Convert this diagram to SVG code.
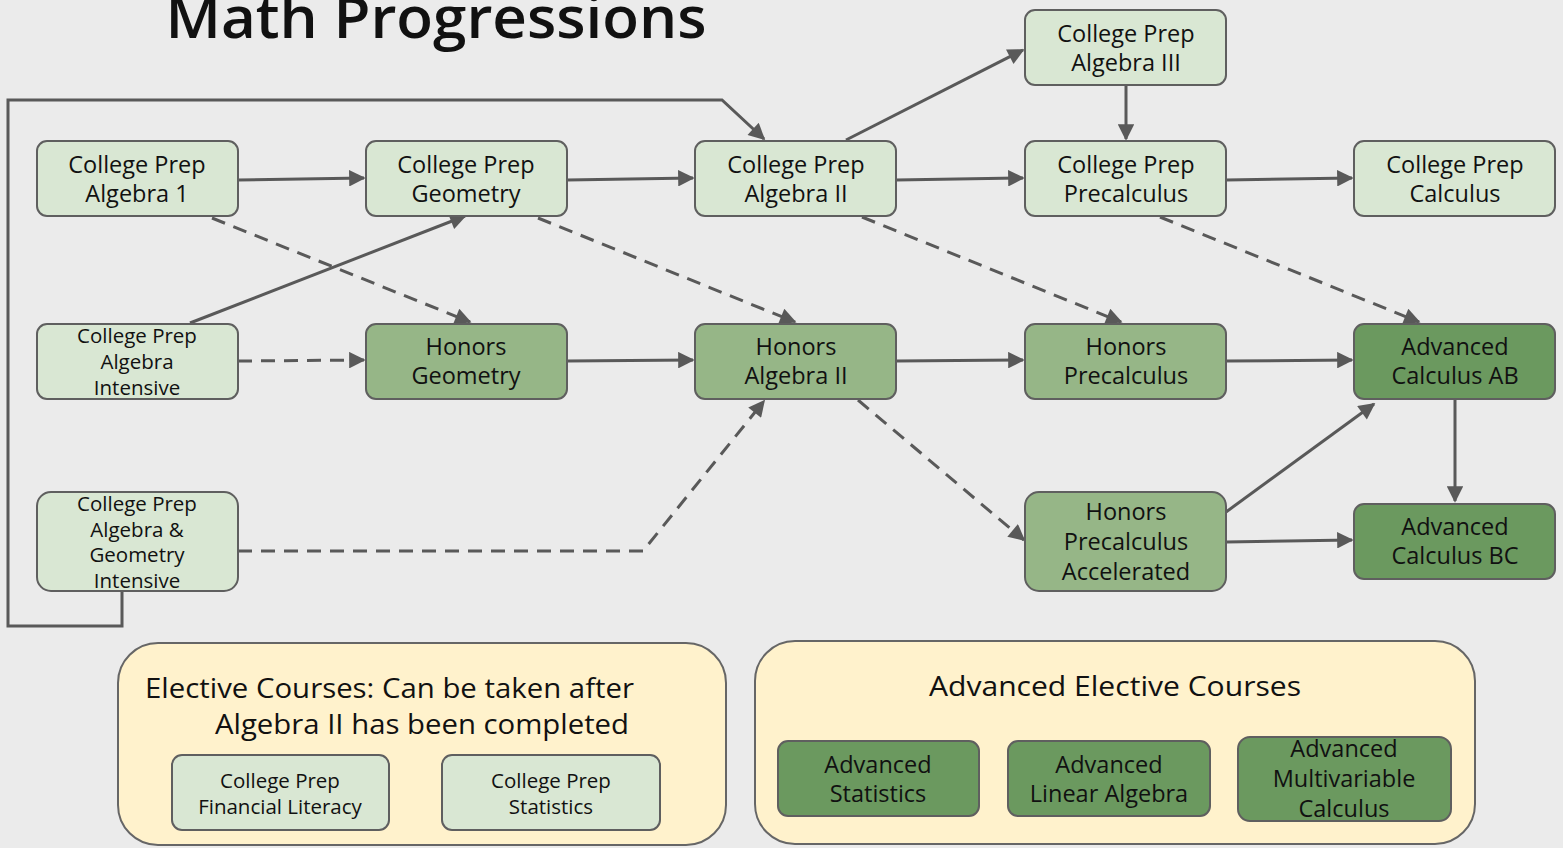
<svg xmlns="http://www.w3.org/2000/svg" width="1563" height="848" viewBox="0 0 1563 848">
<style>
text{font-family:"Open Sans","Liberation Sans",sans-serif;fill:#111;text-anchor:middle}
.n rect{stroke:#5f5f5f;stroke-width:2}
.l rect{fill:#d9e7d3}
.m rect{fill:#96b687}
.d rect{fill:#6b995f}
.t{font-size:23.5px}
.s{font-size:20.5px}
.e rect{fill:#fff2cc;stroke:#666;stroke-width:2}
.h{font-size:27.5px}
.c path{fill:none;stroke:#595959;stroke-width:3}
.c .ds{stroke-dasharray:14 9}
</style>
<defs>
<marker id="ah" viewBox="0 0 10 10" refX="9" refY="5" markerWidth="6.5" markerHeight="5.5" markerUnits="strokeWidth" orient="auto">
<path d="M0,0 L10,5 L0,10 z" fill="#595959"/>
</marker>
</defs>
<rect width="1563" height="848" fill="#ebebeb"/>
<text x="436" y="38" style="font-size:58px;font-weight:600" textLength="541" lengthAdjust="spacingAndGlyphs" fill="#000">Math Progressions</text>

<g class="e" id="electives">
<rect x="118" y="643" width="608" height="202" rx="40"/>
<text class="h" x="145" y="698" style="text-anchor:start" textLength="489" lengthAdjust="spacingAndGlyphs">Elective Courses: Can be taken after</text>
<text class="h" x="215" y="734" style="text-anchor:start" textLength="414" lengthAdjust="spacingAndGlyphs">Algebra II has been completed</text>
</g>
<g class="e" id="adv-electives">
<rect x="755" y="641" width="720" height="203" rx="40"/>
<text class="h" x="1115" y="696" textLength="372" lengthAdjust="spacingAndGlyphs">Advanced Elective Courses</text>
</g>

<g class="c" id="connectors">
<path d="M238,180 L364,178" marker-end="url(#ah)"/>
<path d="M567,180 L693,178" marker-end="url(#ah)"/>
<path d="M896,180 L1023,178" marker-end="url(#ah)"/>
<path d="M1226,180 L1352,178" marker-end="url(#ah)"/>
<path d="M846,140 L1023,50" marker-end="url(#ah)"/>
<path d="M1126,85 L1126,139" marker-end="url(#ah)"/>
<path d="M122,591 L122,626 L8,626 L8,100 L722,100 L764,139" marker-end="url(#ah)"/>
<path d="M190,323 L465,216" marker-end="url(#ah)"/>
<path class="ds" d="M212,218 L470,322" marker-end="url(#ah)"/>
<path class="ds" d="M238,361 L364,360" marker-end="url(#ah)"/>
<path class="ds" d="M538,218 L795,322" marker-end="url(#ah)"/>
<path class="ds" d="M862,217 L1121,322" marker-end="url(#ah)"/>
<path class="ds" d="M1160,217 L1419,322" marker-end="url(#ah)"/>
<path d="M567,361 L693,360" marker-end="url(#ah)"/>
<path d="M896,361 L1023,360" marker-end="url(#ah)"/>
<path d="M1226,361 L1352,360" marker-end="url(#ah)"/>
<path class="ds" d="M858,400 L1024,540" marker-end="url(#ah)"/>
<path class="ds" d="M238,551 L643,551 L764,401" marker-end="url(#ah)"/>
<path d="M1226,512 L1374,404" marker-end="url(#ah)"/>
<path d="M1226,542 L1352,540" marker-end="url(#ah)"/>
<path d="M1455,399 L1455,501" marker-end="url(#ah)"/>
</g>

<g class="n l" id="cp-alg1"><rect x="37" y="141" width="201" height="75" rx="10"/><text class="t" x="137" y="173">College Prep</text><text class="t" x="137" y="202">Algebra 1</text></g>
<g class="n l" id="cp-geom"><rect x="366" y="141" width="201" height="75" rx="10"/><text class="t" x="466" y="173">College Prep</text><text class="t" x="466" y="202">Geometry</text></g>
<g class="n l" id="cp-alg2"><rect x="695" y="141" width="201" height="75" rx="10"/><text class="t" x="796" y="173">College Prep</text><text class="t" x="796" y="202">Algebra II</text></g>
<g class="n l" id="cp-alg3"><rect x="1025" y="10" width="201" height="75" rx="10"/><text class="t" x="1126" y="42">College Prep</text><text class="t" x="1126" y="71">Algebra III</text></g>
<g class="n l" id="cp-precalc"><rect x="1025" y="141" width="201" height="75" rx="10"/><text class="t" x="1126" y="173">College Prep</text><text class="t" x="1126" y="202">Precalculus</text></g>
<g class="n l" id="cp-calc"><rect x="1354" y="141" width="201" height="75" rx="10"/><text class="t" x="1455" y="173">College Prep</text><text class="t" x="1455" y="202">Calculus</text></g>
<g class="n l" id="cp-alg-int"><rect x="37" y="324" width="201" height="75" rx="10"/><text class="s" x="137" y="343">College Prep</text><text class="s" x="137" y="369">Algebra</text><text class="s" x="137" y="395">Intensive</text></g>
<g class="n m" id="h-geom"><rect x="366" y="324" width="201" height="75" rx="10"/><text class="t" x="466" y="355">Honors</text><text class="t" x="466" y="384">Geometry</text></g>
<g class="n m" id="h-alg2"><rect x="695" y="324" width="201" height="75" rx="10"/><text class="t" x="796" y="355">Honors</text><text class="t" x="796" y="384">Algebra II</text></g>
<g class="n m" id="h-precalc"><rect x="1025" y="324" width="201" height="75" rx="10"/><text class="t" x="1126" y="355">Honors</text><text class="t" x="1126" y="384">Precalculus</text></g>
<g class="n d" id="adv-calc-ab"><rect x="1354" y="324" width="201" height="75" rx="10"/><text class="t" x="1455" y="355">Advanced</text><text class="t" x="1455" y="384">Calculus AB</text></g>
<g class="n l" id="cp-alg-geom-int"><rect x="37" y="492" width="201" height="99" rx="14"/><text class="s" x="137" y="511">College Prep</text><text class="s" x="137" y="537">Algebra &amp;</text><text class="s" x="137" y="562">Geometry</text><text class="s" x="137" y="588">Intensive</text></g>
<g class="n m" id="h-precalc-acc"><rect x="1025" y="492" width="201" height="99" rx="14"/><text class="t" x="1126" y="520">Honors</text><text class="t" x="1126" y="550">Precalculus</text><text class="t" x="1126" y="580">Accelerated</text></g>
<g class="n d" id="adv-calc-bc"><rect x="1354" y="504" width="201" height="75" rx="10"/><text class="t" x="1455" y="535">Advanced</text><text class="t" x="1455" y="564">Calculus BC</text></g>

<g class="n l" id="cp-fin-lit"><rect x="172" y="755" width="217" height="75" rx="10"/><text class="s" x="280" y="788">College Prep</text><text class="s" x="280" y="814">Financial Literacy</text></g>
<g class="n l" id="cp-stats"><rect x="442" y="755" width="218" height="75" rx="10"/><text class="s" x="551" y="788">College Prep</text><text class="s" x="551" y="814">Statistics</text></g>
<g class="n d" id="adv-stats"><rect x="778" y="741" width="201" height="75" rx="10"/><text class="t" x="878" y="773">Advanced</text><text class="t" x="878" y="802">Statistics</text></g>
<g class="n d" id="adv-linalg"><rect x="1008" y="741" width="202" height="75" rx="10"/><text class="t" x="1109" y="773">Advanced</text><text class="t" x="1109" y="802">Linear Algebra</text></g>
<g class="n d" id="adv-multi"><rect x="1238" y="737" width="213" height="84" rx="12"/><text class="t" x="1344" y="757">Advanced</text><text class="t" x="1344" y="787">Multivariable</text><text class="t" x="1344" y="817">Calculus</text></g>
</svg>
